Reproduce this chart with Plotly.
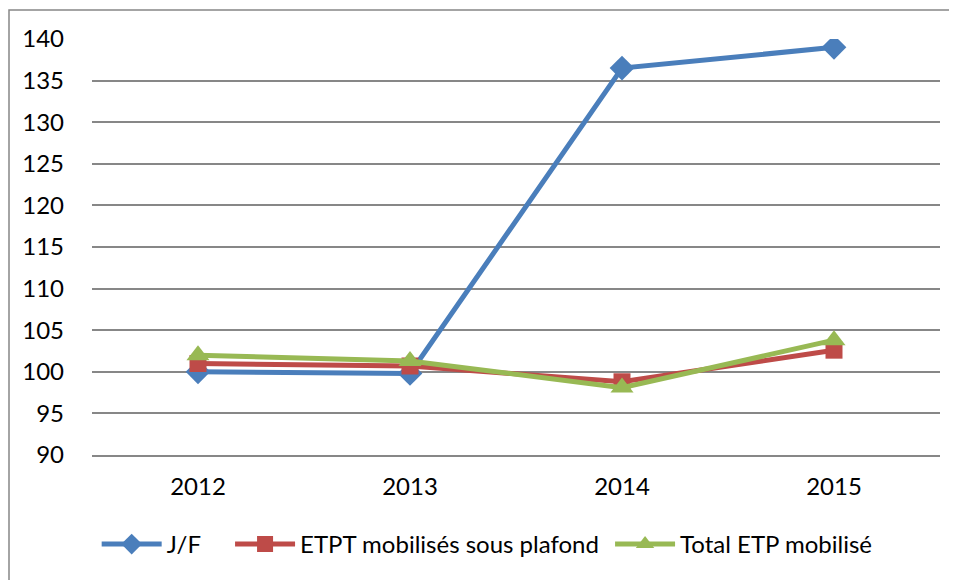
import plotly.graph_objects as go

years = ["2012", "2013", "2014", "2015"]
jf = [100.0, 99.8, 136.5, 139.0]
etpt = [101.0, 100.7, 98.8, 102.6]
total = [102.0, 101.3, 98.1, 103.8]
names = ["J/F", "ETPT mobilisés sous plafond", "Total ETP mobilisé"]

FONT = "Lato"
FS = 24
OFF = 8  # page body margin
W, H = 957 - OFF, 580 - OFF
L, T = 92 - OFF, 39 - OFF
R = W - (940 - OFF)
B = H - (455 - OFF)
pw = W - L - R
ph = H - T - B
NB = "\u00a0"

fig = go.Figure()
fig.add_trace(go.Scatter(x=years, y=jf, name=names[0] + NB * 4, mode="lines+markers",
                         line=dict(color="#4A7EBB", width=5),
                         marker=dict(symbol="diamond", size=19, color="#4A7EBB")))
fig.add_trace(go.Scatter(x=years, y=etpt, name=names[1] + NB * 1, mode="lines+markers",
                         line=dict(color="#BE4B48", width=5),
                         marker=dict(symbol="square", size=17, color="#BE4B48")))
fig.add_trace(go.Scatter(x=years, y=total, name=names[2], mode="lines+markers",
                         line=dict(color="#98B954", width=5),
                         marker=dict(symbol="triangle-up", size=20, color="#98B954")))

fig.update_layout(
    width=W, height=H,
    margin=dict(l=L, r=R, t=T, b=B),
    paper_bgcolor="white", plot_bgcolor="white",
    font=dict(family=FONT, size=FS, color="black"),
    showlegend=True,
    legend=dict(orientation="h", x=0.466, xanchor="center", y=-0.215, yanchor="middle",
                font=dict(family=FONT, size=FS), itemwidth=60, tracegroupgap=0),
    xaxis=dict(showgrid=False, showline=True, linecolor="#878787", linewidth=2,
               ticks="", tickfont=dict(size=FS), range=[-0.5, 3.5], ticklabelstandoff=9),
    yaxis=dict(range=[90, 140], dtick=5, showgrid=True, gridcolor="#878787", gridwidth=2,
               showline=False, zeroline=False, ticks="", ticklabelstandoff=27,
               tickfont=dict(size=FS)),
    shapes=[dict(type="rect", xref="paper", yref="paper",
                 x0=(1 - L) / pw, x1=(W + 5 - L) / pw,
                 y0=(H - B - (H + 5)) / ph, y1=(H - B - 2) / ph,
                 line=dict(color="#878787", width=1.5), fillcolor="rgba(0,0,0,0)", layer="below")],
)

fig.write_html("out.html")
